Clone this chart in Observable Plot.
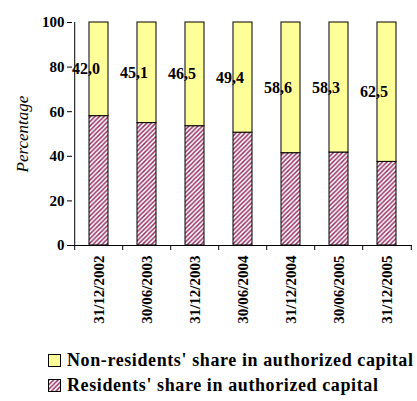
<!DOCTYPE html>
<html><head><meta charset="utf-8">
<script src="https://cdn.jsdelivr.net/npm/d3@7"></script>
<script src="https://cdn.jsdelivr.net/npm/@observablehq/plot@0.6"></script>
<style>
body{margin:0;background:#fff;font-family:'Liberation Serif',serif;}
#legend{margin-top:8px;padding-left:48px;font-weight:bold;font-size:18px;letter-spacing:0.6px;font-family:'Liberation Serif',serif;}
.row{display:flex;align-items:center;height:25px;white-space:nowrap;}
.sw{width:11px;height:11px;border:1px solid #000;margin-right:6px;flex:none;}
#chart svg text{font-family:'Liberation Serif',serif;}
</style></head>
<body>
<div id="chart"></div>
<div id="legend"></div>
<script>
const dates = ["31/12/2002","30/06/2003","31/12/2003","30/06/2004","31/12/2004","30/06/2005","31/12/2005"];
const nonResidents = [42.0,45.1,46.5,49.4,58.6,58.3,62.5];
const residents = [58.0,54.9,53.5,50.6,41.4,41.7,37.5];
const yTicks = [0,20,40,60,80,100];
const seriesNames = ["Residents' share in authorized capital","Non-residents' share in authorized capital"];

const rows = [];
dates.forEach((d,i)=>{
  rows.push({date:d, series:seriesNames[0], value:residents[i]});
  rows.push({date:d, series:seriesNames[1], value:nonResidents[i]});
});

const W=417,H=340,ML=72,MR=5,MT=22,MB=95;
const step=(W-ML-MR)/dates.length;
const pad=0.61;
const fmt=v=>v.toFixed(1).replace(".",",");
const FF="Liberation Serif";

const plot = Plot.plot({
  width:W,height:H,marginLeft:ML,marginRight:MR,marginTop:MT,marginBottom:MB,
  style:"font-family:'Liberation Serif',serif;font-weight:bold;font-size:15px;color:#000;background:#fff;",
  x:{domain:dates,paddingInner:pad,paddingOuter:pad/2,label:null},
  y:{domain:[0,100],label:null},
  color:{domain:seriesNames,range:["url(#hatch)","#ffff99"]},
  marks:[
    Plot.barY(rows,Plot.stackY({x:"date",y:"value",fill:"series",stroke:"#000",strokeWidth:1})),
    Plot.text(rows,Plot.stackY({x:"date",y:"value",text:d=>d.series===seriesNames[1]?fmt(d.value):null,dx:-13,fontSize:16,fontWeight:"bold",fontFamily:FF,fill:"#000"})),
    Plot.ruleY([0],{stroke:"#000"}),
    Plot.ruleX([dates[0]],{x:d=>d,dx:-step/2,y1:0,y2:100,stroke:"#000"}),
    Plot.ruleX(dates,{x:d=>d,dx:-step/2,y1:0,y2:0,insetBottom:-5,stroke:"#000"}),
    Plot.ruleX([dates[dates.length-1]],{x:d=>d,dx:step/2,y1:0,y2:0,insetBottom:-5,stroke:"#000"}),
    Plot.axisY({ticks:yTicks,tickSize:5,tickPadding:3,label:"Percentage",labelAnchor:"center",labelOffset:57,fontSize:15,fontWeight:"bold",fontFamily:FF}),
    Plot.axisX({tickSize:0,tickRotate:-90,tickPadding:10,label:null,fontSize:15,fontWeight:"bold",fontFamily:FF})
  ]
});
const svg=d3.select(plot);
const defs=svg.insert("defs",":first-child");
const pat=defs.append("pattern").attr("id","hatch").attr("patternUnits","userSpaceOnUse").attr("width",4.5).attr("height",4.5);
pat.append("rect").attr("width",4.5).attr("height",4.5).attr("fill","#fff");
pat.append("path").attr("d","M-1,1 l2,-2 M0,4.5 l4.5,-4.5 M3.5,5.5 l2,-2").attr("stroke","#993366").attr("stroke-width",1.5);
svg.selectAll('[aria-label="x-axis tick label"] text, [aria-label="y-axis tick label"] text, [aria-label="x-axis tick label"], [aria-label="y-axis tick label"]')
  .style("font-weight","bold").style("font-size","15px").style("font-family","'Liberation Serif',serif");
const lab=svg.selectAll('[aria-label="y-axis label"]');
lab.style("font-style","italic").style("font-weight","normal").style("font-size","17px");
lab.selectAll("text").text("Percentage").style("font-style","italic").style("font-weight","normal").style("font-size","17px");
document.getElementById("chart").appendChild(plot);

const leg=document.getElementById("legend");
[[seriesNames[1],"#ffff99"],[seriesNames[0],null]].forEach(([name,col])=>{
  const r=document.createElement("div");r.className="row";
  const s=document.createElement("div");s.className="sw";
  if(col){s.style.background=col;}
  else{s.innerHTML='<svg width="11" height="11"><defs><pattern id="hatch2" patternUnits="userSpaceOnUse" width="4.5" height="4.5"><rect width="4.5" height="4.5" fill="#fff"/><path d="M-1,1 l2,-2 M0,4.5 l4.5,-4.5 M3.5,5.5 l2,-2" stroke="#993366" stroke-width="1.5"/></pattern></defs><rect width="11" height="11" fill="url(#hatch2)"/></svg>';s.style.lineHeight="0";}
  const t=document.createElement("span");t.textContent=name;
  r.appendChild(s);r.appendChild(t);leg.appendChild(r);
});
</script>
</body></html>
